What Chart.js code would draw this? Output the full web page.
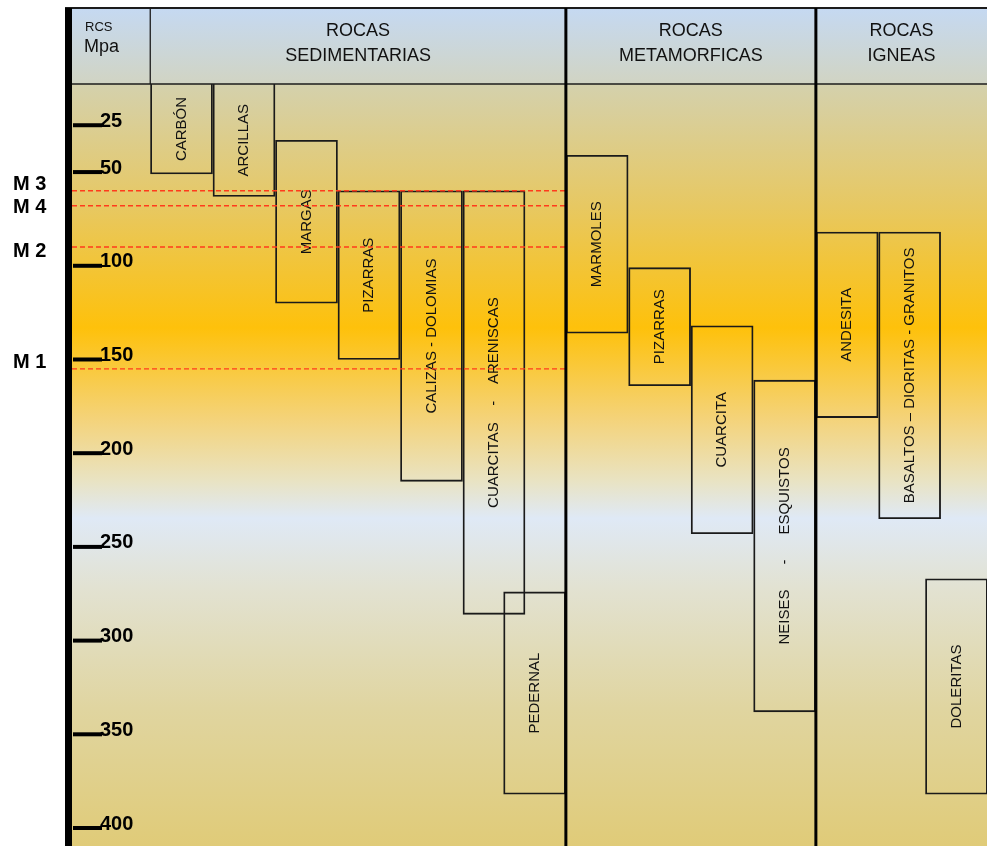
<!DOCTYPE html>
<html>
<head>
<meta charset="utf-8">
<script src="https://cdn.jsdelivr.net/npm/chart.js@4.4.1/dist/chart.umd.min.js"></script>
<style>
  html, body { margin: 0; padding: 0; background: #fff; }
  #wrap { width: 987px; height: 846px; }
</style>
</head>
<body>
<div id="wrap"><canvas id="myChart"></canvas></div>
<script>
// rock types and their RCS range (MPa)
var rocks = ["CARBÓN", "ARCILLAS", "MARGAS", "PIZARRAS", "CALIZAS - DOLOMIAS",
  "CUARCITAS    -    ARENISCAS", "PEDERNAL", "MARMOLES", "PIZARRAS", "CUARCITA",
  "NEISES      -      ESQUISTOS", "ANDESITA", "BASALTOS – DIORITAS - GRANITOS", "DOLERITAS"];
var rcsMin = [0, 0, 33, 60, 60, 60, 274, 41, 101, 132, 161, 82, 82, 267];
var rcsMax = [51, 63, 120, 150, 215, 286, 382, 136, 164, 243, 338, 181, 235, 382];
var rockSection = [0, 0, 0, 0, 0, 0, 0, 1, 1, 1, 1, 2, 2, 2];
var sections = [["ROCAS", "SEDIMENTARIAS"], ["ROCAS", "METAMORFICAS"], ["ROCAS", "IGNEAS"]];

// reference levels (dashed red lines)
var markNames = ["M 1", "M 2", "M 3", "M 4"];
var markValues = [155, 90, 60, 68];

var tickValues = [25, 50, 100, 150, 200, 250, 300, 350, 400];

// layout: some boxes are tucked partly over their neighbour
var tuckIn = { "PEDERNAL": 0.35, "DOLERITAS": 0.25 };
var markLabelNudge = { "M 1": -6, "M 2": 4, "M 3": -6, "M 4": 2 };
var FONT = "'Liberation Sans', Arial, sans-serif";

var xPos = [];
var acc = 0;
rocks.forEach(function (r, i) {
  if (tuckIn[r]) acc -= tuckIn[r];
  xPos.push(i + acc);
});

var points = rocks.map(function (r, i) {
  return { x: xPos[i], y: [rcsMin[i], rcsMax[i]] };
});

// background, frame, header, labels
const decor = {
  id: "decor",
  beforeDraw: function (chart) {
    var ctx = chart.ctx, ca = chart.chartArea;
    ctx.save();
    var hg = ctx.createLinearGradient(0, 8, 0, ca.top);
    hg.addColorStop(0, "#c5d9f2");
    hg.addColorStop(1, "#d1d4c3");
    ctx.fillStyle = hg;
    ctx.fillRect(ca.left, 8, ca.right - ca.left, ca.top - 8);
    var g = ctx.createLinearGradient(0, ca.top, 0, ca.bottom);
    g.addColorStop(0, "#d4d1ad");
    g.addColorStop(0.16, "#e7c862");
    g.addColorStop(0.32, "#fec10b");
    g.addColorStop(0.44, "#f4d37a");
    g.addColorStop(0.52, "#e9e3c2");
    g.addColorStop(0.57, "#dfe9f6");
    g.addColorStop(0.66, "#e2e2d2");
    g.addColorStop(0.82, "#e0d5a0");
    g.addColorStop(1, "#e0cb78");
    ctx.fillStyle = g;
    ctx.fillRect(ca.left, ca.top, ca.right - ca.left, ca.bottom - ca.top);
    ctx.restore();
  },
  afterDatasetsDraw: function (chart) {
    var ctx = chart.ctx, ca = chart.chartArea;
    var xs = chart.scales.x, ys = chart.scales.y;
    var meta = chart.getDatasetMeta(0);
    ctx.save();

    // rock names inside boxes
    ctx.fillStyle = "#111";
    ctx.font = "15px " + FONT;
    ctx.textAlign = "center";
    ctx.textBaseline = "middle";
    meta.data.forEach(function (el, i) {
      var top = Math.max(Math.min(el.y, el.base), ca.top);
      var bot = Math.min(Math.max(el.y, el.base), ca.bottom);
      ctx.save();
      ctx.translate(el.x, (top + bot) / 2);
      ctx.rotate(-Math.PI / 2);
      ctx.fillText(rocks[i], 0, 0);
      ctx.restore();
    });

    // section edges from the x scale
    var firstLeft = xs.getPixelForValue(xPos[0] - 0.5);
    var edges = [firstLeft];
    for (var i = 1; i < rocks.length; i++) {
      if (rockSection[i] !== rockSection[i - 1]) edges.push(xs.getPixelForValue(xPos[i] - 0.5));
    }
    edges.push(ca.right);
    var sedRight = edges[1];

    // dashed reference lines
    ctx.strokeStyle = "#ff3b1c";
    ctx.lineWidth = 1.4;
    ctx.setLineDash([5, 3]);
    markValues.forEach(function (v) {
      var y = ys.getPixelForValue(v);
      ctx.beginPath();
      ctx.moveTo(ca.left, y);
      ctx.lineTo(sedRight, y);
      ctx.stroke();
    });
    ctx.setLineDash([]);
    ctx.fillStyle = "#000";
    ctx.font = "bold 20px " + FONT;
    ctx.textAlign = "left";
    ctx.textBaseline = "middle";
    markNames.forEach(function (n, i) {
      ctx.fillText(n, 13, ys.getPixelForValue(markValues[i]) + markLabelNudge[n]);
    });

    // tick marks
    ctx.strokeStyle = "#000";
    ctx.lineWidth = 4;
    ys.ticks.forEach(function (t) {
      var y = ys.getPixelForValue(t.value);
      ctx.beginPath();
      ctx.moveTo(ca.left + 1, y);
      ctx.lineTo(ca.left + 30, y);
      ctx.stroke();
    });

    // header frame
    ctx.strokeStyle = "#1c1c1c";
    ctx.lineWidth = 2;
    ctx.beginPath();
    ctx.moveTo(ca.left - 7, 8);
    ctx.lineTo(ca.right, 8);
    ctx.stroke();
    ctx.lineWidth = 1.3;
    ctx.beginPath();
    ctx.moveTo(ca.left, ca.top);
    ctx.lineTo(ca.right, ca.top);
    ctx.moveTo(firstLeft, 8);
    ctx.lineTo(firstLeft, ca.top);
    ctx.stroke();
    ctx.lineWidth = 3;
    ctx.strokeStyle = "#000";
    for (var k = 1; k < edges.length - 1; k++) {
      ctx.beginPath();
      ctx.moveTo(edges[k], 8);
      ctx.lineTo(edges[k], ca.bottom);
      ctx.stroke();
    }
    ctx.fillStyle = "#000";
    ctx.fillRect(ca.left - 7, 8, 7, ca.bottom - 8);

    // header texts
    ctx.fillStyle = "#111";
    ctx.textBaseline = "alphabetic";
    ctx.textAlign = "left";
    ctx.font = "13px " + FONT;
    ctx.fillText("RCS", ca.left + 13, 31);
    ctx.font = "18px " + FONT;
    ctx.fillText("Mpa", ca.left + 12, 52);
    ctx.textAlign = "center";
    sections.forEach(function (s, j) {
      var cx = (edges[j] + edges[j + 1]) / 2;
      ctx.fillText(s[0], cx, 36);
      ctx.fillText(s[1], cx, 61);
    });
    ctx.restore();
  }
};

const config = {
  type: "bar",
  data: {
    datasets: [{
      data: points,
      backgroundColor: "rgba(0,0,0,0)",
      borderColor: "#1a1a1a",
      borderWidth: 1.2,
      borderSkipped: false,
      barThickness: 62,
      clip: 0
    }]
  },
  options: {
    responsive: true,
    maintainAspectRatio: false,
    animation: false,
    layout: { padding: { left: 44, top: 84, right: 0, bottom: 0 } },
    plugins: { legend: { display: false }, tooltip: { enabled: false } },
    scales: {
      x: { type: "linear", min: -1.752, max: 12.888, offset: false, display: false },
      y: {
        reverse: true,
        min: 3,
        max: 409.6,
        afterBuildTicks: function (scale) {
          scale.ticks = tickValues.map(function (v) { return { value: v }; });
        },
        afterFit: function (scale) {
          scale.width = 28;
          scale.paddingTop = 0;
          scale.paddingBottom = 0;
        },
        grid: { display: false, drawTicks: false },
        border: { display: false },
        ticks: {
          mirror: true,
          padding: 28,
          labelOffset: -4,
          autoSkip: false,
          color: "#000",
          font: { family: FONT, size: 20, weight: "bold" }
        }
      }
    }
  },
  plugins: [decor]
};

const myChart = new Chart(document.getElementById("myChart"), config);
</script>
</body>
</html>
